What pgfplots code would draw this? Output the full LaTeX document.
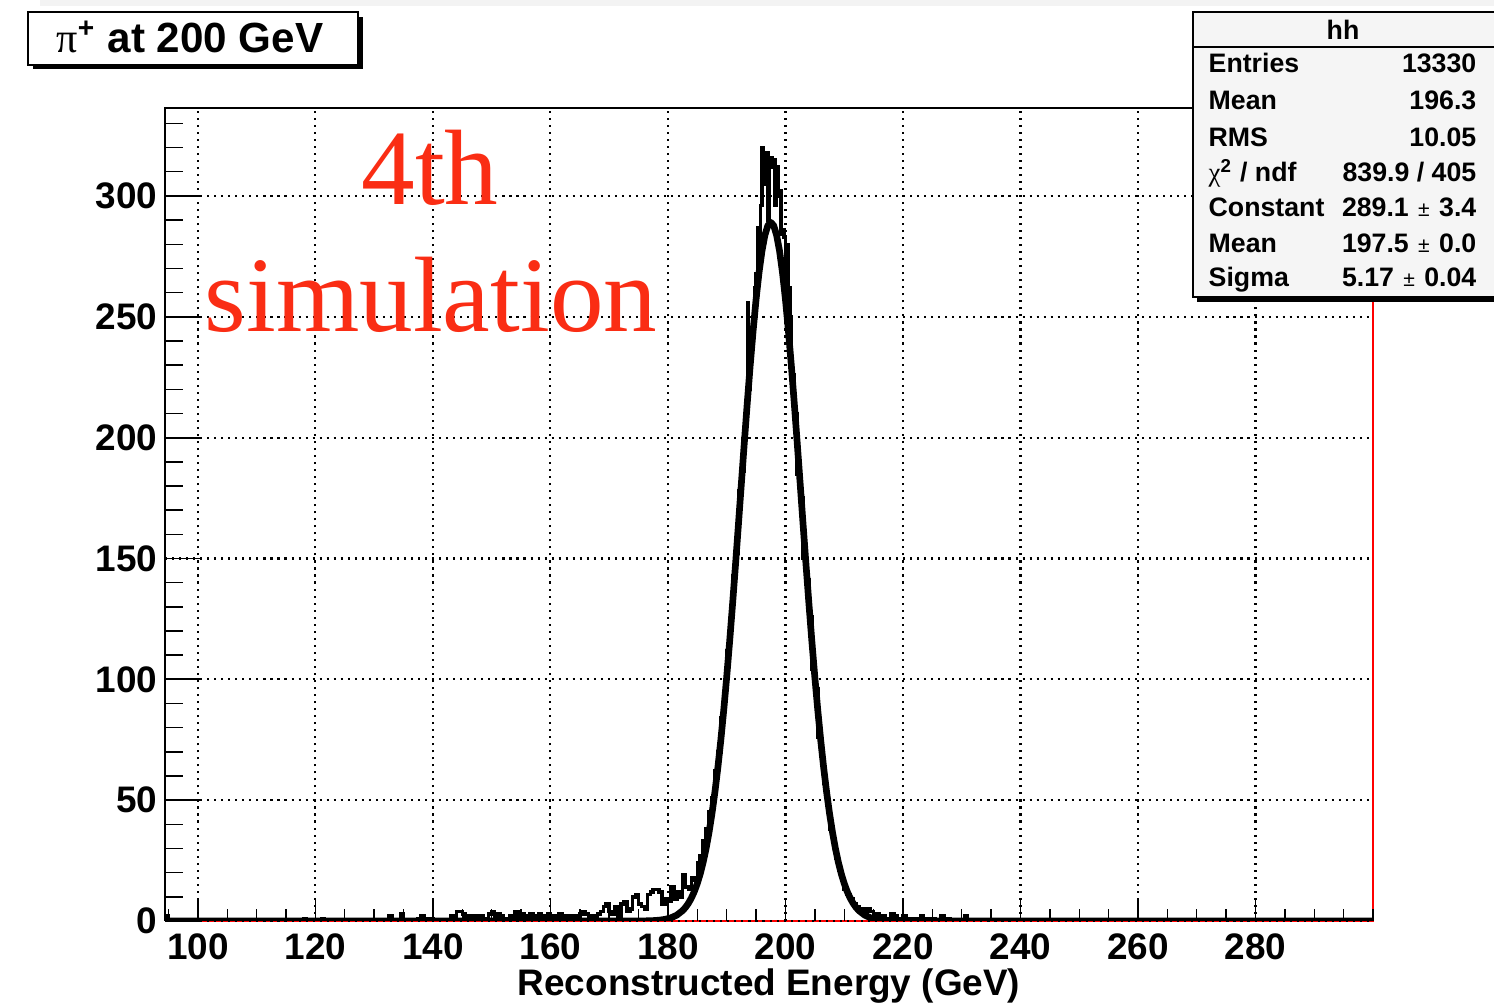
\documentclass[border=0pt]{standalone}
\usepackage{pgfplots}
\pgfplotsset{compat=1.18}
\usepackage{fontspec}
\setmainfont{Liberation Sans}
\newfontfamily\symf{Liberation Serif}
\definecolor{annored}{RGB}{250,45,20}
\definecolor{statfill}{RGB}{245,245,245}
\definecolor{bandgray}{RGB}{243,243,243}
\newcommand{\pmsmall}{{\mdseries\fontsize{6}{7}\selectfont\ \,±\ \,}}

\begin{document}
\begin{tikzpicture}[x=1cm,y=1cm]
\useasboundingbox (0,0) rectangle (14.94,10.04);
\fill[white] (0,0) rectangle (14.94,10.04);
\fill[bandgray] (0.40,9.98) rectangle (14.94,10.04);

% red frame (bottom, right)
\draw[red, line width=0.6pt] (1.65,0.83) -- (13.73,0.83) -- (13.73,8.96);

\pgfplotsset{
  basechart/.style={
    at={(1.65cm,0.83cm)}, anchor=south west,
    width=12.08cm, height=8.13cm, scale only axis,
    xmin=94.4, xmax=300, ymin=0, ymax=336.4,
    axis line style={draw=none},
    tick align=inside,
    tick style={black, line width=0.5pt},
    minor tick style={black, line width=0.4pt},
    tick label style={font=\fontsize{10.5}{12}\selectfont\bfseries},
    /pgf/number format/assume math mode=true,
    grid style={black, line width=0.6pt, dash pattern=on 0.6pt off 1.4pt},
  }
}

% y ticks and y grid
\begin{axis}[basechart,
  xtick=\empty,
  ytick={0,50,100,150,200,250,300},
  minor ytick={10,20,...,330},
  ytick pos=left,
  major tick length=0.35cm, minor tick length=0.18cm,
  ymajorgrids,
  yticklabel style={xshift=1.3pt},
]
\addplot[draw=none] coordinates {(100,0)};
\end{axis}

% x ticks, x grid and data
\begin{axis}[basechart,
  ytick=\empty,
  xtick={100,120,140,160,180,200,220,240,260,280},
  minor xtick={95,100,...,300},
  xtick pos=left,
  major tick length=0.23cm, minor tick length=0.12cm,
  xmajorgrids,
]
% histogram hh
\addplot[const plot, black, line width=1pt] coordinates {
(94.4,0) (94.5,2) (95,0) (118,1) (118.5,0) (121,1) (121.5,0) (132.5,2) (133,0)
(134.5,3) (135,0) (137.5,1) (138,2) (138.5,1) (139,0) (139.5,1) (140,0)
(143,2) (143.5,0) (144,4) (144.5,4) (145,3) (145.5,2) (146,1) (146.5,2)
(147,2) (147.5,1) (148,2) (148.5,1) (149,1) (149.5,3) (150,4) (150.5,1)
(151,3) (151.5,2) (152,1) (152.5,1) (153,2) (153.5,1) (154,4) (154.5,2)
(155,3) (155.5,2) (156,1) (156.5,3) (157,2) (157.5,2) (158,3) (158.5,1)
(159,2) (159.5,3) (160,1) (160.5,2) (161,1) (161.5,3) (162,2) (162.5,1)
(163,2) (163.5,1) (164,2) (164.5,1) (165,3) (165.5,4) (166,3) (166.5,1)
(167,2) (167.5,1) (168,3) (168.5,4) (169,6) (169.5,7) (170,4) (170.5,3)
(171,6) (171.5,2) (172,7) (172.5,8) (173,4) (173.5,5) (174,10) (174.5,11)
(175,7) (175.5,6) (176,5) (176.5,11) (177,12) (177.5,13) (178,13) (178.5,12)
(179,7) (179.5,9) (180,8) (180.5,14) (181,9) (181.5,12) (182,10) (182.5,19)
(183,14) (183.5,13) (184,18) (184.5,17) (185,24) (185.5,27) (186,33) (186.5,38)
(187,45) (187.5,51) (188,62) (188.5,70) (189,84) (189.5,93) (190,112) (190.5,121)
(191,143) (191.5,152) (192,178) (192.5,186) (193,210) (193.5,256) (193.75,220)
(194,235) (194.25,242) (194.5,250) (194.75,262) (195,268) (195.25,287) (195.5,275)
(195.75,296) (196,320) (196.25,317) (196.5,305) (196.75,318) (197,290) (197.25,312)
(197.5,316) (197.75,314) (198,315) (198.25,296) (198.5,312) (198.75,300) (199,302)
(199.25,284) (199.5,286) (199.75,283) (200,264) (200.25,280) (200.5,262) (200.75,250)
(201,226) (201.5,210) (202,185) (202.5,175) (203,150) (203.5,141) (204,126)
(204.5,104) (205,96) (205.5,76) (206,71) (206.5,57) (207,50) (207.5,38) (208,33)
(208.5,26) (209,21) (209.5,17) (210,13) (210.5,11) (211,9) (211.5,7) (212,6)
(212.5,4) (213,5) (213.5,3) (214,5) (214.5,4) (215,2) (215.5,3) (216,1) (216.5,2)
(217,1) (217.5,0) (218,3) (218.5,2) (219,1) (219.5,0) (220,2) (220.5,1) (221,1)
(221.5,0) (222,1) (222.5,0) (223,2) (223.5,0) (224,1) (224.5,0) (225,1) (225.5,0)
(226.5,2) (227,0) (227.5,1) (228,0) (230.5,2) (231,0) (300,0)
};
% gaussian fit (Constant 289.1, Mean 197.5, Sigma 5.17), tabulated
\addplot[black, line width=1.9pt, line join=round] coordinates {
(94.4,0) (175.5,0.034) (176.5,0.075) (177.5,0.16) (178.5,0.34) (179.5,0.67)
(180.5,1.30) (181.5,2.41) (182.5,4.30) (183,5.66) (183.5,7.39) (184,9.56)
(184.5,12.25) (185,15.55) (185.5,19.55) (186,24.36) (186.5,30.06) (187,36.77)
(187.5,44.54) (188,53.44) (188.5,63.54) (189,74.83) (189.5,87.32) (190,100.95)
(190.5,115.60) (191,131.16) (191.5,147.43) (192,164.17) (192.5,181.11) (193,197.94)
(193.5,214.31) (194,229.90) (194.5,244.30) (195,257.20) (195.5,268.26) (196,277.18)
(196.5,283.74) (197,287.75) (197.5,289.1) (198,287.75) (198.5,283.74) (199,277.18)
(199.5,268.26) (200,257.20) (200.5,244.30) (201,229.90) (201.5,214.31) (202,197.94)
(202.5,181.11) (203,164.17) (203.5,147.43) (204,131.16) (204.5,115.60) (205,100.95)
(205.5,87.32) (206,74.83) (206.5,63.54) (207,53.44) (207.5,44.54) (208,36.77)
(208.5,30.06) (209,24.36) (209.5,19.55) (210,15.55) (210.5,12.25) (211,9.56)
(211.5,7.39) (212,5.66) (212.5,4.30) (213.5,2.41) (214.5,1.30) (215.5,0.67)
(216.5,0.34) (217.5,0.16) (218.5,0.075) (219.5,0.034) (300,0)
};
\end{axis}

% black axis lines (left, top)
\draw[black, line width=0.45pt] (1.65,0.83) -- (1.65,8.96) -- (13.73,8.96);

% axis title
\node[anchor=base, inner sep=0pt, font=\fontsize{10.5}{12}\selectfont\bfseries] at (7.69,0.08) {Reconstructed Energy (GeV)};

% annotation
\node[anchor=base, inner sep=0pt, text=annored, font=\symf\fontsize{30.5}{34}\selectfont] at (4.30,7.99) {4th};
\node[anchor=base, inner sep=0pt, text=annored, font=\symf\fontsize{30.5}{34}\selectfont] at (4.31,6.72) {simulation};

% title box
\fill[black] (0.33,9.35) rectangle (3.63,9.87);
\filldraw[fill=white, draw=black, line width=0.45pt] (0.28,9.39) rectangle (3.58,9.92);
\node[anchor=base, inner sep=0pt, font=\fontsize{12}{14}\selectfont\bfseries] at (1.90,9.51)
  {{\symf\mdseries π}\textsuperscript{+} at 200 GeV};

% stats box
\fill[black] (11.97,7.02) rectangle (15.2,9.88);
\filldraw[fill=statfill, draw=black, line width=0.45pt] (11.93,7.07) rectangle (15.2,9.92);
\draw[black, line width=0.45pt] (11.93,9.57) -- (15.2,9.57);
\begin{scope}[every node/.style={inner sep=0pt, font=\fontsize{7.6}{9}\selectfont\bfseries}]
\node[anchor=base] at (13.43,9.64) {hh};
\node[anchor=base west] at (12.08,9.31) {Entries};
\node[anchor=base east] at (14.77,9.31) {13330};
\node[anchor=base west] at (12.08,8.94) {Mean};
\node[anchor=base east] at (14.77,8.94) {196.3};
\node[anchor=base west] at (12.08,8.57) {RMS};
\node[anchor=base east] at (14.77,8.57) {10.05};
\node[anchor=base west] at (12.08,8.22) {{\symf\mdseries χ}\textsuperscript{2} / ndf};
\node[anchor=base east] at (14.77,8.22) {839.9 / 405};
\node[anchor=base west] at (12.08,7.87) {Constant};
\node[anchor=base east] at (14.77,7.87) {289.1\pmsmall 3.4};
\node[anchor=base west] at (12.08,7.51) {Mean};
\node[anchor=base east] at (14.77,7.51) {197.5\pmsmall 0.0};
\node[anchor=base west] at (12.08,7.17) {Sigma};
\node[anchor=base east] at (14.77,7.17) {5.17\pmsmall 0.04};
\end{scope}
\end{tikzpicture}
\end{document}
